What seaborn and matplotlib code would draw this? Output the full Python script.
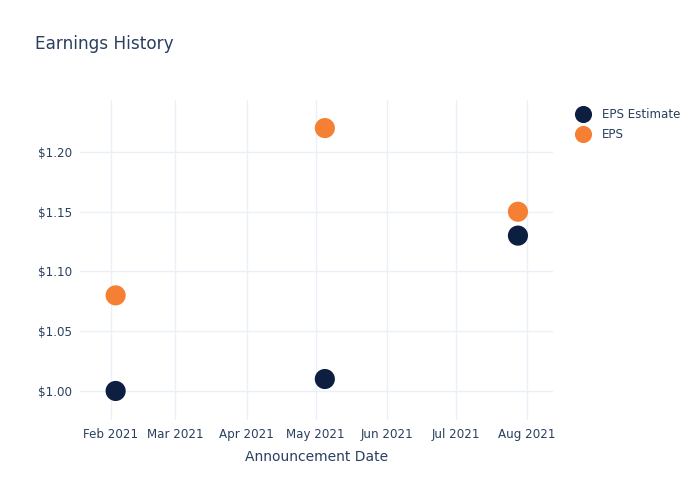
import matplotlib
matplotlib.use("Agg")
import matplotlib.pyplot as plt
import matplotlib.dates as mdates
import seaborn as sns
import pandas as pd
import numpy as np

dates = ["2021-02-03", "2021-05-05", "2021-07-28"]
eps_estimate = [1.00, 1.01, 1.13]
eps_actual = [1.08, 1.22, 1.15]
series_names = ["EPS Estimate", "EPS"]
colors = ["#0c1f41", "#f58034"]

df = pd.DataFrame({
    "date": pd.to_datetime(dates * 2),
    "value": eps_estimate + eps_actual,
    "series": [series_names[0]] * 3 + [series_names[1]] * 3,
})

sns.set_style("white")
plt.rcParams["font.family"] = ["DejaVu Sans"]
text_color = "#2a3f5f"
grid_color = "#ebf0f8"

fig = plt.figure(figsize=(7, 5), dpi=100)
ax = fig.add_axes([0.1143, 0.16, 0.6757, 0.64])

sns.scatterplot(data=df, x="date", y="value", hue="series", palette=colors,
                s=210, linewidth=0, ax=ax, zorder=3)

ax.set_xlim(pd.Timestamp("2021-01-18 12:00"), pd.Timestamp("2021-08-12 06:00"))
ax.set_ylim(0.9757, 1.2435)
ax.set_yticks([1.00, 1.05, 1.10, 1.15, 1.20])
ax.set_yticklabels(["$1.00", "$1.05", "$1.10", "$1.15", "$1.20"])
ax.xaxis.set_major_locator(mdates.MonthLocator())
ax.xaxis.set_major_formatter(mdates.DateFormatter("%b %Y"))

ax.grid(True, color=grid_color, linewidth=1)
ax.set_axisbelow(True)
for s in ax.spines.values():
    s.set_visible(False)
ax.tick_params(axis="both", length=0, colors=text_color, labelsize=8.6, pad=6)

ax.set_xlabel("Announcement Date", color=text_color, fontsize=10, labelpad=6)
ax.set_ylabel("")

fig.text(35 / 700, 1 - 44 / 500, "Earnings History", color=text_color,
         fontsize=12.2, va="center", ha="left")

leg = ax.legend(loc="upper left", bbox_to_anchor=(1.022, 0.996), frameon=False,
                fontsize=8.6, handletextpad=0.6, labelspacing=0.55,
                markerscale=0.85, borderaxespad=0.2)
for t in leg.get_texts():
    t.set_color(text_color)

fig.savefig("out.png", dpi=100)
